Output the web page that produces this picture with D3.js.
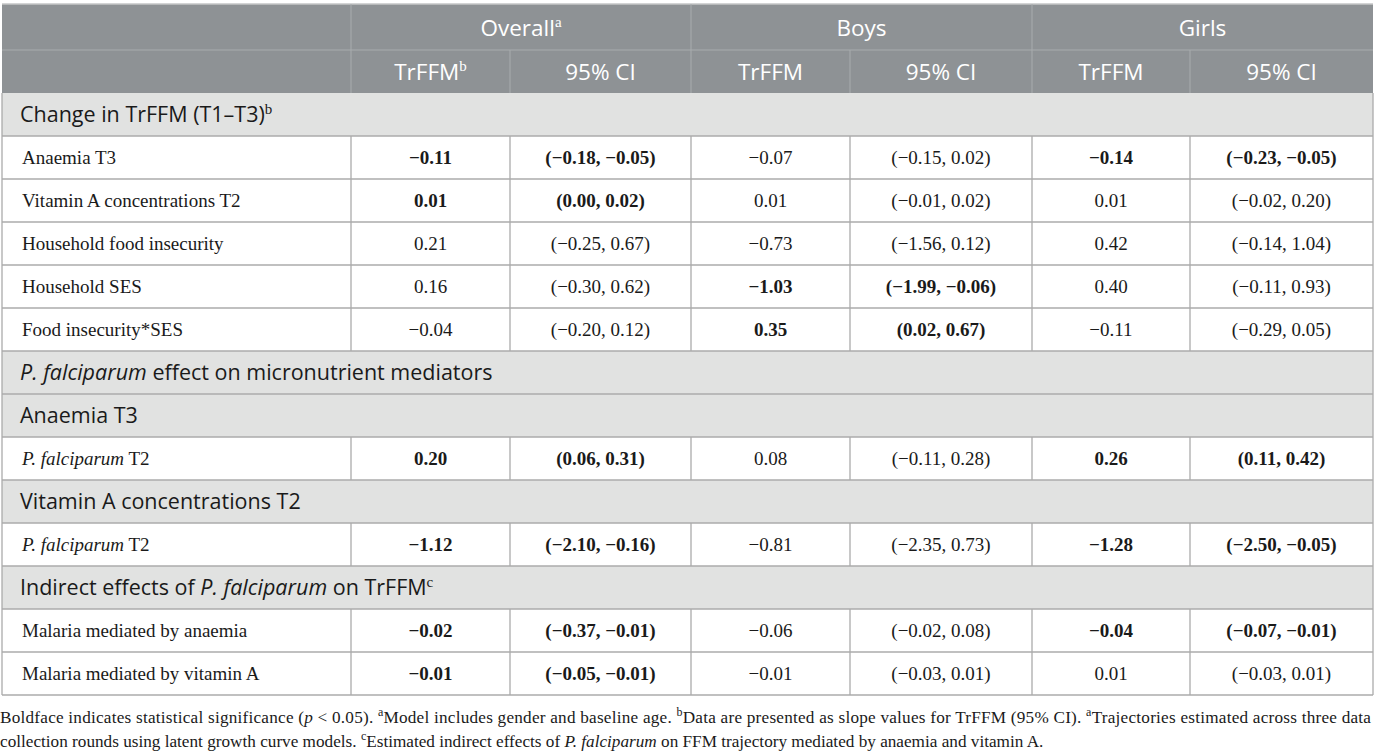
<!DOCTYPE html>
<html>
<head>
<meta charset="utf-8">
<script src="https://cdn.jsdelivr.net/npm/d3@7"></script>
<style>
  html, body { margin: 0; padding: 0; background: #fff; }
  svg { display: block; }
</style>
</head>
<body>
<svg id="tablesvg"></svg>
<script>
// table content
const groups = ["Overall", "Boys", "Girls"];
const groupSups = ["a", "", ""];
const subHeads = ["TrFFM", "95% CI"];
const subSups = ["b", "", "", "", "", ""];

// each body row: "s" = section heading, "d" = data row
const rowKinds = ["s", "d", "d", "d", "d", "d", "s", "s", "d", "s", "d", "s", "d", "d"];
const rowLabels = [
  "Change in TrFFM (T1\u2013T3)",
  "Anaemia T3",
  "Vitamin A concentrations T2",
  "Household food insecurity",
  "Household SES",
  "Food insecurity*SES",
  "|P. falciparum| effect on micronutrient mediators",
  "Anaemia T3",
  "|P. falciparum| T2",
  "Vitamin A concentrations T2",
  "|P. falciparum| T2",
  "Indirect effects of |P. falciparum| on TrFFM",
  "Malaria mediated by anaemia",
  "Malaria mediated by vitamin A"
];
const rowSups = ["b", "", "", "", "", "", "", "", "", "", "", "c", "", ""];

// data rows only, in order
const overallEst = [-0.11, 0.01, 0.21, 0.16, -0.04, 0.20, -1.12, -0.02, -0.01];
const overallLo  = [-0.18, 0.00, -0.25, -0.30, -0.20, 0.06, -2.10, -0.37, -0.05];
const overallHi  = [-0.05, 0.02, 0.67, 0.62, 0.12, 0.31, -0.16, -0.01, -0.01];
const overallSig = [1, 1, 0, 0, 0, 1, 1, 1, 1];

const boysEst = [-0.07, 0.01, -0.73, -1.03, 0.35, 0.08, -0.81, -0.06, -0.01];
const boysLo  = [-0.15, -0.01, -1.56, -1.99, 0.02, -0.11, -2.35, -0.02, -0.03];
const boysHi  = [0.02, 0.02, 0.12, -0.06, 0.67, 0.28, 0.73, 0.08, 0.01];
const boysSig = [0, 0, 0, 1, 1, 0, 0, 0, 0];

const girlsEst = [-0.14, 0.01, 0.42, 0.40, -0.11, 0.26, -1.28, -0.04, 0.01];
const girlsLo  = [-0.23, -0.02, -0.14, -0.11, -0.29, 0.11, -2.50, -0.07, -0.03];
const girlsHi  = [-0.05, 0.20, 1.04, 0.93, 0.05, 0.42, -0.05, -0.01, 0.01];
const girlsSig = [1, 0, 0, 0, 0, 1, 1, 1, 0];

const footLines = [
  ["Boldface indicates statistical significance (", "|p|", " < 0.05). ", "^a", "Model includes gender and baseline age. ", "^b", "Data are presented as slope values for TrFFM (95% CI). ", "^a", "Trajectories estimated across three data"],
  ["collection rounds using latent growth curve models. ", "^c", "Estimated indirect effects of ", "|P. falciparum|", " on FFM trajectory mediated by anaemia and vitamin A."]
];

// layout
const W = 1375, H = 756;
const colEdges = [2, 351, 510, 691, 850, 1032, 1190, 1373];
const fmt = d3.format(".2f");
const sans = "'Open Sans', 'Noto Sans', sans-serif";
const serif = "'Liberation Serif', 'Times New Roman', serif";
const nRows = 16;

const svg = d3.select("#tablesvg").attr("width", W).attr("height", H);

// rows: header row 0 is taller, the rest share one step
const yRow = d3.scaleLinear().domain([1, nRows]).range([50, 695]);
const top0 = 4;
const rowTop = i => (i === 0 ? top0 : yRow(i));
const rowBot = i => yRow(i + 1);
const lastRow = nRows - 1;

const gridCol = "#ababab";
const headBg = "#8e9295";
const headLine = "#a8acae";
const sectBg = "#e1e2e1";

// header background
svg.append("rect")
  .attr("x", colEdges[0]).attr("y", rowTop(0))
  .attr("width", colEdges[7] - colEdges[0]).attr("height", rowBot(1) - rowTop(0))
  .attr("fill", headBg);

// section backgrounds
rowKinds.forEach((k, j) => {
  if (k !== "s") return;
  const r = j + 2;
  svg.append("rect")
    .attr("x", colEdges[0]).attr("y", rowTop(r))
    .attr("width", colEdges[7] - colEdges[0]).attr("height", rowBot(r) - rowTop(r))
    .attr("fill", sectBg);
});

// horizontal lines
svg.append("line")
  .attr("x1", colEdges[0]).attr("x2", colEdges[7])
  .attr("y1", rowBot(0)).attr("y2", rowBot(0))
  .attr("stroke", headLine).attr("stroke-width", 1);
for (let r = 2; r <= lastRow; r++) {
  svg.append("line")
    .attr("x1", colEdges[0]).attr("x2", colEdges[7])
    .attr("y1", rowBot(r)).attr("y2", rowBot(r))
    .attr("stroke", gridCol).attr("stroke-width", 1.3);
}
svg.append("line")
  .attr("x1", colEdges[0]).attr("x2", colEdges[7])
  .attr("y1", top0).attr("y2", top0)
  .attr("stroke", "#c4c6c7").attr("stroke-width", 1.3);

// vertical lines: header
[1, 3, 5].forEach(c => {
  svg.append("line")
    .attr("x1", colEdges[c]).attr("x2", colEdges[c])
    .attr("y1", rowTop(0)).attr("y2", rowBot(1))
    .attr("stroke", headLine).attr("stroke-width", 1);
});
[2, 4, 6].forEach(c => {
  svg.append("line")
    .attr("x1", colEdges[c]).attr("x2", colEdges[c])
    .attr("y1", rowTop(1)).attr("y2", rowBot(1))
    .attr("stroke", headLine).attr("stroke-width", 1);
});
// vertical lines: data rows
rowKinds.forEach((k, j) => {
  if (k !== "d") return;
  const r = j + 2;
  [1, 2, 3, 4, 5, 6].forEach(c => {
    svg.append("line")
      .attr("x1", colEdges[c]).attr("x2", colEdges[c])
      .attr("y1", rowTop(r)).attr("y2", rowBot(r))
      .attr("stroke", gridCol).attr("stroke-width", 1.3);
  });
});
// outer sides
[0, 7].forEach(c => {
  svg.append("line")
    .attr("x1", colEdges[c]).attr("x2", colEdges[c])
    .attr("y1", rowBot(1)).attr("y2", rowBot(lastRow))
    .attr("stroke", gridCol).attr("stroke-width", 1.3);
});

const midY = r => (rowTop(r) + rowBot(r)) / 2;

// write a label that may contain |italic| parts
function richText(t, str) {
  str.split("|").forEach((part, i) => {
    if (!part) return;
    const ts = t.append("tspan").text(part);
    if (i % 2 === 1) ts.attr("font-style", "italic");
  });
}

// header row 1
groups.forEach((g, i) => {
  const cx = (colEdges[1 + i * 2] + colEdges[3 + i * 2]) / 2;
  const t = svg.append("text")
    .attr("x", cx).attr("y", midY(0)).attr("dy", "0.38em")
    .attr("text-anchor", "middle")
    .attr("font-family", sans).attr("font-size", 22.5).attr("font-weight", 400)
    .attr("fill", "#fff");
  t.append("tspan").text(g);
  if (groupSups[i]) {
    t.append("tspan").text(groupSups[i])
      .attr("font-family", serif).attr("font-size", 15).attr("dy", "-0.55em");
  }
});

// header row 2
for (let c = 0; c < 6; c++) {
  const cx = (colEdges[1 + c] + colEdges[2 + c]) / 2;
  const t = svg.append("text")
    .attr("x", cx).attr("y", midY(1)).attr("dy", "0.36em")
    .attr("text-anchor", "middle")
    .attr("font-family", sans).attr("font-size", 22.5).attr("font-weight", 400)
    .attr("fill", "#fff");
  t.append("tspan").text(subHeads[c % 2]);
  if (subSups[c]) {
    t.append("tspan").text(subSups[c])
      .attr("font-family", serif).attr("font-size", 15).attr("dy", "-0.55em");
  }
}

// body
let di = 0;
const groupsData = [
  [overallEst, overallLo, overallHi, overallSig],
  [boysEst, boysLo, boysHi, boysSig],
  [girlsEst, girlsLo, girlsHi, girlsSig]
];
rowKinds.forEach((k, j) => {
  const r = j + 2;
  if (k === "s") {
    const t = svg.append("text")
      .attr("x", 20).attr("y", midY(r)).attr("dy", "0.36em")
      .attr("font-family", sans).attr("font-size", 21.5)
      .attr("fill", "#1a1a1a");
    richText(t, rowLabels[j]);
    if (rowSups[j]) {
      t.append("tspan").text(rowSups[j])
        .attr("font-family", serif).attr("font-size", 15).attr("dy", "-0.55em");
    }
    return;
  }
  const t = svg.append("text")
    .attr("x", 22).attr("y", midY(r)).attr("dy", "0.34em")
    .attr("font-family", serif).attr("font-size", 19)
    .attr("fill", "#1a1a1a");
  richText(t, rowLabels[j]);

  groupsData.forEach((gd, g) => {
    const [est, lo, hi, sig] = gd;
    const bold = sig[di] ? "bold" : "normal";
    const cells = [fmt(est[di]), "(" + fmt(lo[di]) + ", " + fmt(hi[di]) + ")"];
    cells.forEach((txt, c) => {
      const col = 1 + g * 2 + c;
      svg.append("text")
        .attr("x", (colEdges[col] + colEdges[col + 1]) / 2)
        .attr("y", midY(r)).attr("dy", "0.34em")
        .attr("text-anchor", "middle")
        .attr("font-family", serif).attr("font-size", 19)
        .attr("font-weight", bold)
        .attr("fill", "#1a1a1a")
        .text(txt);
    });
  });
  di++;
});

// footnotes
const footY = [723, 747];
footLines.forEach((parts, li) => {
  const t = svg.append("text")
    .attr("x", 0).attr("y", footY[li])
    .attr("font-family", serif).attr("font-size", 17.2)
    .attr("fill", "#1a1a1a");
  // first line is justified to the table width
  if (li === 0) t.attr("textLength", 1371).attr("lengthAdjust", "spacing");
  parts.forEach(p => {
    if (p.startsWith("^")) {
      t.append("tspan").text(p.slice(1))
        .attr("font-size", 12).attr("baseline-shift", "super");
    } else if (p.startsWith("|")) {
      t.append("tspan").text(p.slice(1, -1)).attr("font-style", "italic");
    } else {
      t.append("tspan").text(p);
    }
  });
});
</script>
</body>
</html>
